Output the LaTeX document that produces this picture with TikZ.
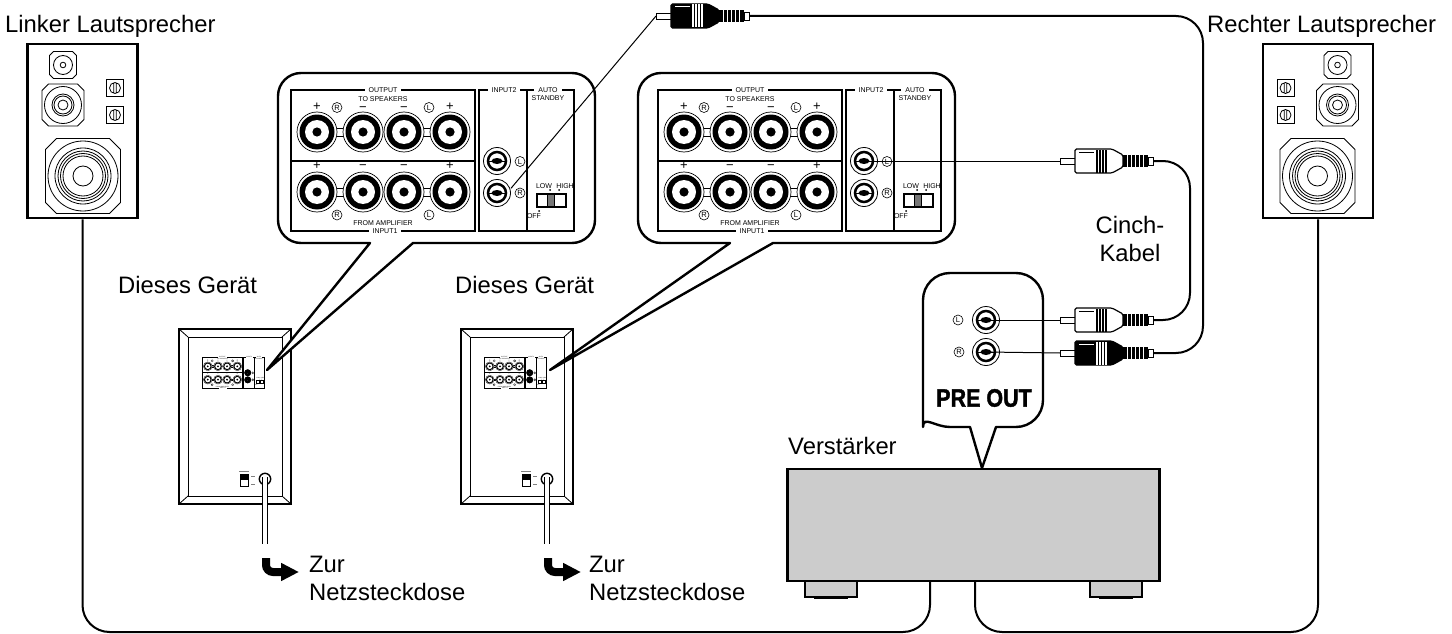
\documentclass[tikz,border=0pt]{standalone}
\usepackage{fontspec}
\setmainfont{Liberation Sans}
\newfontfamily\heavyfont{Liberation Sans}[BoldFeatures={FakeBold=1.6}]
\usetikzlibrary{positioning,arrows.meta}
\definecolor{ampgray}{HTML}{CCCCCC}
\definecolor{knobgray}{HTML}{777777}
\def\lwf{1}
\newcommand{\octa}[3]{%
  \draw[thinline,shift={#1}] (-#2+#3,-#2) -- (#2-#3,-#2) -- (#2,-#2+#3) -- (#2,#2-#3)
     -- (#2-#3,#2) -- (-#2+#3,#2) -- (-#2,#2-#3) -- (-#2,-#2+#3) -- cycle;}
\tikzset{
  % --- general text and lines ---
  bigtext/.style={font=\fontsize{23.8}{28}\selectfont, inner sep=0pt, align=left},
  thinline/.style={line width=0.8pt},
  wire/.style={line width=2pt, rounded corners=27pt},
  signal/.style={line width=1pt},
  callout/.style={line width=2.4pt, fill=white, line join=round},
  % --- boxes ---
  spkbox/.style={draw, line width=2.5pt, minimum width=110pt, minimum height=174pt, inner sep=0pt},
  ampbox/.style={draw, fill=ampgray, line width=2.4pt, minimum width=372pt, minimum height=112pt, inner sep=0pt},
  footbox/.style={draw, fill=ampgray, line width=1.8pt, minimum width=52pt, minimum height=16pt, inner sep=0pt},
  % --- back panel parts, line widths follow \lwf ---
  panelframe/.style={line width=\lwf*2.2pt},
  panelthin/.style={line width=\lwf*0.7pt},
  paneltext/.style={font=\fontsize{7}{8}\selectfont, inner sep=0pt, transform shape},
  framelabel/.style={paneltext, fill=white, inner xsep=4pt, inner ysep=1pt},
  signtext/.style={paneltext, font=\fontsize{13}{13}\selectfont},
  circled/.style={circle, draw, line width=\lwf*0.6pt, inner sep=0pt, minimum size=10pt,
                  font=\fontsize{7.5}{8}\selectfont, transform shape},
  powerarrow/.style={line width=8pt, rounded corners=7pt, -{Triangle[length=18pt,width=17pt]}},
  cord/.style={line width=1pt, double=white, double distance=3.6pt},
  % --- one output terminal ---
  terminal/.pic={
    \draw[panelthin, fill=white] (0,0) circle (20);
    \fill (0,0) circle (17.5);
    \fill[white] (0,0) circle (12);
    \fill (0,0) circle (4.6);
  },
  % --- one cinch socket ---
  socketpic/.pic={
    \draw[thinline, fill=white] (0,0) circle (13.5);
    \draw[line width=2.5pt] (0,0) circle (9);
    \fill (0,0) ellipse (5.5 and 3);
    \draw[thinline] (-8,0) -- (8,0);
  },
  % --- cinch plug, tip on the left: body colour, stripe colour ---
  pics/cinch/.style 2 args={code={
    \coordinate (-tip) at (0,0);
    \coordinate (-end) at (93,0);
    \draw[thinline, fill=white] (0,-3) rectangle (15,3);
    \draw[line width=1.2pt, fill=#1, rounded corners=1.5pt] (15,-12) -- (52,-12) -- (63,-6)
       -- (63,6) -- (52,12) -- (15,12) -- cycle;
    \fill[#2] (19,-9.5) rectangle (34,-8.7);
    \foreach \sx in {36,39,42,45} {\fill[#2] (\sx,-11.5) rectangle (\sx+1.5,11.5);}
    \fill (63,-6) rectangle (88,6);
    \foreach \sx in {67,71,75,79,83} {\fill[white] (\sx,-6) rectangle (\sx+0.8,6);}
    \draw[thinline, fill=white] (88,-4) rectangle (93,4);
  }},
  % --- zoomed panel, origin at top left corner of the output box ---
  panelpic/.pic={
    \coordinate (-jackl) at (206,71);
    \coordinate (-jackr) at (206,103);
    \coordinate (-jackrout) at (220,98.3);
    \foreach \ty in {42,102} {
      \foreach \ax/\bx in {26/72,113/159} {
        \draw[panelthin] (\ax,\ty-4) rectangle (\bx,\ty+4);
      }
      \foreach \tx in {26,72,113,159} {\pic[transform shape] at (\tx,\ty) {terminal};}
    }
    \draw[panelframe] (0,0) rectangle (184,141) (0,71) -- (184,71);
    \draw[panelframe] (188,0) rectangle (283,141) (236,0) -- (236,141);
    \node[framelabel] (-output) at (92,0) {OUTPUT};
    \node[framelabel] (-inputone) at (94,141) {INPUT1};
    \node[framelabel] (-inputtwo) at (213,0) {INPUT2};
    \node[framelabel] (-auto) at (257,0) {AUTO};
    \node[paneltext] (-standby) at (257,8) {STANDBY};
    \node[paneltext] (-tospeakers) at (92,9.5) {TO SPEAKERS};
    \node[paneltext] (-fromamp) at (92,133) {FROM AMPLIFIER};
    \node[signtext] (-p1) at (26,17) {+};
    \node[signtext] (-m1) at (72,19) {−};
    \node[signtext] (-m2) at (113,19) {−};
    \node[signtext] (-p2) at (159,17) {+};
    \node[signtext] (-p3) at (26,76) {+};
    \node[signtext] (-m3) at (72,77) {−};
    \node[signtext] (-m4) at (113,77) {−};
    \node[signtext] (-p4) at (159,76) {+};
    \node[circled] (-r1) at (46,17.5) {R};
    \node[circled] (-l1) at (138,17.5) {L};
    \node[circled] (-r2) at (46,125) {R};
    \node[circled] (-l2) at (138,125) {L};
    \pic[transform shape] at (-jackl) {socketpic};
    \pic[transform shape] at (-jackr) {socketpic};
    \node[circled] (-l3) at (229,71.5) {L};
    \node[circled] (-r3) at (229,103) {R};
    % standby switch
    \draw[panelthin, line width=\lwf*1.1pt, fill=white] (246,104) rectangle (275,117);
    \draw[panelthin, fill=knobgray] (256,104.5) rectangle (263,116.5);
    \node[paneltext] (-low) at (253,96) {LOW};
    \node[paneltext] (-high) at (274,96) {HIGH};
    \node[paneltext] (-off) at (243,126) {OFF};
    \foreach \dx/\dy in {259/100,268/100,248/121} {\fill (\dx,\dy) circle (1);}
  },
  % --- small rear view of the unit, origin at top left ---
  unitpic/.pic={
    \coordinate (-socket) at (86,150);
    \coordinate (-cordtop) at (86,148);
    \coordinate (-cordend) at (86,215);
    \draw[line width=2pt] (0,0) rectangle (112,175);
    \draw[thinline] (9,8) rectangle (103,167);
    \draw[thinline] (0,0) -- (9,8) (112,0) -- (103,8) (0,175) -- (9,167) (112,175) -- (103,167);
    \draw[thinline] (61,145) rectangle (69,157);
    \fill (61,145) rectangle (69,151);
    \draw[line width=0.4pt, gray] (60,142) -- (70,142) (72,147) -- (76,147) (72,155) -- (76,155);
    \draw[line width=1.4pt] (-socket) circle (5.7);
  },
  % --- loudspeaker front, origin in the box centre ---
  speakerpic/.pic={
    \octa{(-19.5,-66)}{13.5}{4}
    \draw[thinline] (-19.5,-66) circle (9.5) (-19.5,-66) circle (2.8);
    \octa{(-19.5,-26)}{21}{6.5}
    \foreach \cr in {18.5,11,9,5} {\draw[thinline] (-19.5,-26) circle (\cr);}
    \octa{(0.5,45)}{37.5}{11}
    \foreach \cr in {35,28,25,22.5,20,10} {\draw[thinline] (0.5,45) circle (\cr);}
    \foreach \ty in {-43,-16} {
      \draw[thinline] (24,\ty-8.5) rectangle (41,\ty+8.5);
      \draw[thinline] (32.5,\ty) circle (5.5) (31.3,\ty-5.4) -- (31.3,\ty+5.4) (33.7,\ty-5.4) -- (33.7,\ty+5.4);
    }
  },
}
\begin{document}
\begin{tikzpicture}[x=1pt,y=-1pt]
  \useasboundingbox (0,0) rectangle (1452,634);

  % small rear views with their panels
  \pic (unitl) at (179,329) {unitpic};
  \pic (unitr) at (461,329) {unitpic};
  \begin{scope}
    \def\lwf{0.4}
    \pic[scale=0.222] (tinyl) at (202,357) {panelpic};
    \pic[scale=0.222] (tinyr) at (484,357) {panelpic};
  \end{scope}

  % speech bubbles
  \coordinate (tipl) at (267,370);
  \coordinate (tipr) at (550,370);
  \coordinate (tipamp) at (982,468);
  \draw[callout] (413,243) [rounded corners=23pt] -- (595,243) -- (595,73) -- (278,73) -- (278,243)
        -- (330,243) [sharp corners] -- (370,243) -- (tipl) -- cycle;
  \draw[callout] (773,243) [rounded corners=23pt] -- (955,243) -- (955,73) -- (638,73) -- (638,243)
        -- (690,243) [sharp corners] -- (730,243) -- (tipr) -- cycle;

  % zoomed panels
  \pic (bigl) at (291,90) {panelpic};
  \pic (bigr) at (658,90) {panelpic};

  % loudspeakers
  \node[spkbox] (lspk) at (82.5,131) {};
  \node[spkbox] (rspk) at (1318,131) {};
  \pic at (lspk.center) {speakerpic};
  \pic[xscale=-1] at (rspk.center) {speakerpic};

  % amplifier
  \node[footbox] (footl) at (831,589) {};
  \node[footbox] (footr) at (1116,589) {};
  \fill (814,596) rectangle (848,599);
  \fill (1099,596) rectangle (1133,599);
  \node[ampbox] (amp) at (973.5,525) {};

  % pre out bubble
  \draw[callout] (996,427) [rounded corners=27pt] -- (1043,427) -- (1043,273) -- (923,273) -- (923,400)
        [sharp corners] .. controls (923,415) and (935,427) .. (950,427) -- (970,427) -- (tipamp) -- cycle;
  \pic (preoutl) at (986,320) {socketpic};
  \pic (preoutr) at (986,352) {socketpic};
  \coordinate (jackprel) at (986,320);
  \coordinate (jackprer) at (986,352);
  \node[circled] (markl) at (958,320) {L};
  \node[circled] (markr) at (959,352) {R};
  \node[font=\heavyfont\bfseries\fontsize{21.5}{24}\selectfont, inner sep=0pt, yscale=1.17, transform shape] (preout) at (984,398) {PRE OUT};

  % plugs
  \pic (topplug) at (656,16) {cinch={black}{white}};
  \pic (cinchplug) at (1060,161) {cinch={white}{black}};
  \pic (lplug) at (1060,320) {cinch={white}{black}};
  \pic (rplug) at (1060,353) {cinch={black}{white}};

  % signal lines
  \draw[signal] (bigl-jackrout) -- (topplug-tip);
  \draw[signal] (bigr-jackl) -- (cinchplug-tip);
  \draw[signal] (jackprel) -- (lplug-tip);
  \draw[signal] (jackprer) -- (rplug-tip);
  \coordinate (wirel) at (1190,0);
  \coordinate (wirer) at (1203,0);
  \draw[wire] (topplug-end) -- (wirer |- topplug-end) -- (wirer |- rplug-end) -- (rplug-end);
  \draw[wire] (cinchplug-end) -- (wirel |- cinchplug-end) -- (wirel |- lplug-end) -- (lplug-end);

  % loudspeaker cables along the bottom
  \coordinate (bottomrun) at (0,632);
  \coordinate (ampinl) at (930,581);
  \coordinate (ampinr) at (975,581);
  \draw[wire] (lspk.south) |- (ampinl |- bottomrun) -- (ampinl);
  \draw[wire] (rspk.south) |- (ampinr |- bottomrun) -- (ampinr);

  % mains cords
  \draw[cord] (unitl-cordtop) -- (unitl-cordend);
  \draw[cord] (unitr-cordtop) -- (unitr-cordend);
  \coordinate (arrowla) at (266,558);
  \coordinate (arrowlb) at (299,572);
  \coordinate (arrowra) at (548,558);
  \coordinate (arrowrb) at (581,572);
  \draw[powerarrow] (arrowla) |- (arrowlb);
  \draw[powerarrow] (arrowra) |- (arrowrb);

  % labels
  \node[bigtext, anchor=base west] (lname) at (5,33) {Linker Lautsprecher};
  \node[bigtext, anchor=base west] (rname) at (1207,33) {Rechter Lautsprecher};
  \node[bigtext, anchor=base west] (unitlname) at (118,293) {Dieses Gerät};
  \node[bigtext, anchor=base west] (unitrname) at (455,293) {Dieses Gerät};
  \node[bigtext, anchor=base west] (ampname) at (788,454) {Verstärker};
  \node[bigtext, align=center] (cablename) at (1130,239) {Cinch-\\Kabel};
  \node[bigtext, anchor=west] (mainsl) at (309,578) {Zur\\Netzsteckdose};
  \node[bigtext, anchor=west] (mainsr) at (589,578) {Zur\\Netzsteckdose};
\end{tikzpicture}
\end{document}
